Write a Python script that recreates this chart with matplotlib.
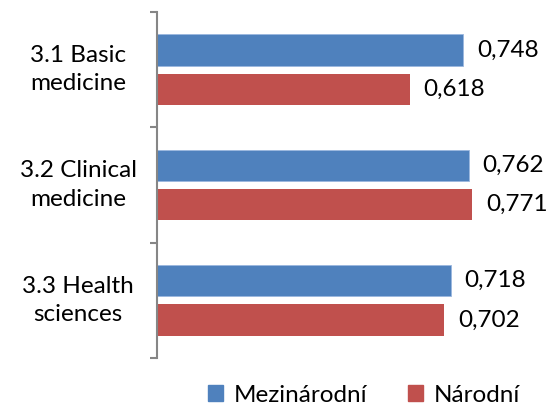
import numpy as np
import matplotlib.pyplot as plt
import matplotlib.transforms as mtransforms
from matplotlib.patches import Patch

categories = ["3.1 Basic\nmedicine", "3.2 Clinical\nmedicine", "3.3 Health\nsciences"]
mezinarodni = [0.748, 0.762, 0.718]
narodni = [0.618, 0.771, 0.702]
series_names = ["Mezinárodní", "Národní"]

blue = "#4F81BD"
red = "#C0504D"
fsize = 17.5
plt.rcParams['font.family'] = ['Lato', 'DejaVu Sans']

fig = plt.figure(figsize=(5.48, 4.09), dpi=100)
ax = fig.add_axes([157 / 548, 51 / 409, 391 / 548, 346 / 409])

y = np.arange(len(categories))
h = 0.27
off = 0.17
ax.barh(y - off, mezinarodni, height=h, color=blue, edgecolor="#9BB7DF", linewidth=0.6)
ax.barh(y + off, narodni, height=h, color=red, linewidth=0)

# value labels, comma decimal
for yi, v in zip(y - off, mezinarodni):
    ax.annotate(f"{v:.3f}".replace(".", ","), (v, yi), xytext=(10, 0),
                textcoords="offset points", va="center", ha="left", fontsize=fsize)
for yi, v in zip(y + off, narodni):
    ax.annotate(f"{v:.3f}".replace(".", ","), (v, yi), xytext=(10, 0),
                textcoords="offset points", va="center", ha="left", fontsize=fsize)

ax.set_xlim(0, 391 / 409)
ax.set_ylim(len(categories) - 0.5, -0.5)

for s in ["top", "right", "bottom"]:
    ax.spines[s].set_visible(False)
ax.spines["left"].set_color("#868686")
ax.spines["left"].set_linewidth(1.5)
ax.set_xticks([])
ax.set_yticks(np.arange(len(categories) + 1) - 0.5)
ax.set_yticklabels([])
ax.tick_params(axis="y", direction="out", length=5, width=1.5, color="#868686")

trans = mtransforms.blended_transform_factory(fig.transFigure, ax.transData)
for yi, lab in zip(y, categories):
    ax.text(78 / 548, yi, lab, transform=trans, ha="center", va="center",
            multialignment="center", fontsize=fsize, linespacing=1.45)

handles = [Patch(color=blue), Patch(color=red)]
fig.legend(handles, series_names, loc="lower center", bbox_to_anchor=(364 / 548, -0.045),
           ncol=2, frameon=False, fontsize=fsize, handlelength=0.6, handleheight=0.6,
           handletextpad=0.45, columnspacing=1.7)

fig.savefig("out.png", dpi=100)
